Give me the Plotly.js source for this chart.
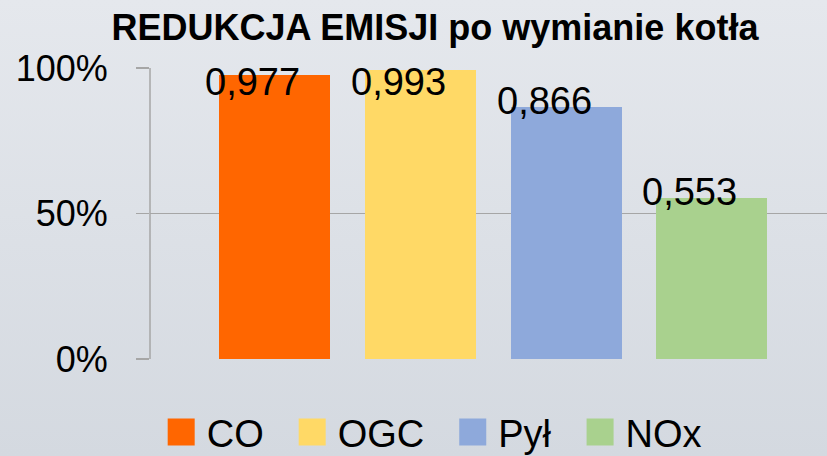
<!DOCTYPE html>
<html>
<head>
<meta charset="utf-8">
<script src="https://cdn.plot.ly/plotly-3.0.1.min.js"></script>
<style>
html,body{margin:0;padding:0;}
body{width:827px;height:456px;background:linear-gradient(to bottom,#e5e8ed 0%,#d4d9e0 100%);}
#chart{width:827px;height:456px;}
</style>
</head>
<body>
<div id="chart"></div>
<script>
const categories = ["CO", "OGC", "Pył", "NOx"];
const values = [0.977, 0.993, 0.866, 0.553];
const colors = ["#FF6600", "#FFD966", "#8EA9DB", "#A9D18E"];
const yTickVals = [0, 0.5, 1];
const yTickText = ["0%", "50%", "100%"];

const traces = categories.map((c, i) => ({
  type: "bar",
  name: c,
  x: [i],
  y: [values[i]],
  width: 0.762,
  marker: {color: colors[i]},
  hoverinfo: "name+y"
}));

const annotations = values.map((v, i) => ({
  x: i, y: Math.min(v, 0.93), xref: "x", yref: "y",
  text: v.toFixed(3).replace(".", ","),
  showarrow: false, xanchor: "center", yanchor: "middle",
  xshift: -22, yshift: 6,
  font: {family: "Liberation Sans, Arial, sans-serif", size: 38, color: "#000"}
}));

const layout = {
  width: 827, height: 456,
  paper_bgcolor: "rgba(0,0,0,0)",
  plot_bgcolor: "rgba(0,0,0,0)",
  margin: {l: 150, r: 0, t: 68, b: 97, pad: 0, autoexpand: false},
  title: {
    text: "<b>REDUKCJA EMISJI po wymianie kotła</b>",
    font: {family: "Liberation Sans, Arial, sans-serif", size: 36, color: "#000"},
    x: 0.526, xanchor: "center", xref: "container",
    y: 0.94, yanchor: "middle", yref: "container"
  },
  xaxis: {
    type: "linear", range: [-0.854, 3.79],
    showticklabels: false, showgrid: false, zeroline: false, showline: false, ticks: ""
  },
  yaxis: {
    range: [0, 1], tickvals: yTickVals, ticktext: yTickText,
    showgrid: true, gridcolor: "#a6a6a6", gridwidth: 1.5,
    zeroline: false, showline: false,
    ticks: "outside", ticklen: 13, tickcolor: "#a6a6a6", tickwidth: 1.5,
    ticklabelstandoff: 21,
    tickfont: {family: "Liberation Sans, Arial, sans-serif", size: 36, color: "#000"}
  },
  shapes: [{
    type: "line", xref: "paper", yref: "paper", x0: 0, x1: 0, y0: 0, y1: 1,
    line: {color: "#a6a6a6", width: 1.5}
  }],
  showlegend: true,
  legend: {
    orientation: "h", xref: "container", yref: "container",
    x: 0.5105, xanchor: "center", y: 0.052, yanchor: "middle",
    font: {family: "Liberation Sans, Arial, sans-serif", size: 38, color: "#000"},
    bgcolor: "rgba(0,0,0,0)", traceorder: "normal", itemwidth: 59
  },
  annotations: annotations,
  bargap: 0
};

Plotly.newPlot("chart", traces, layout, {displayModeBar: false, staticPlot: true}).then(gd => {
  gd.querySelectorAll(".legend .traces").forEach(tr => {
    const p = tr.querySelector(".legendpoints path");
    const t = tr.querySelector("text.legendtext");
    if (!p || !t) return;
    p.setAttribute("d", "M13.5,13.5H-13.5V-13.5H13.5Z");
    const pr = p.getBoundingClientRect();
    const trc = t.getBoundingClientRect();
    const desiredRight = trc.left - 12;
    const dx = desiredRight - pr.right;
    const prev = p.getAttribute("transform") || "";
    p.setAttribute("transform", prev + " translate(" + dx + ",0)");
  });
});
</script>
</body>
</html>
